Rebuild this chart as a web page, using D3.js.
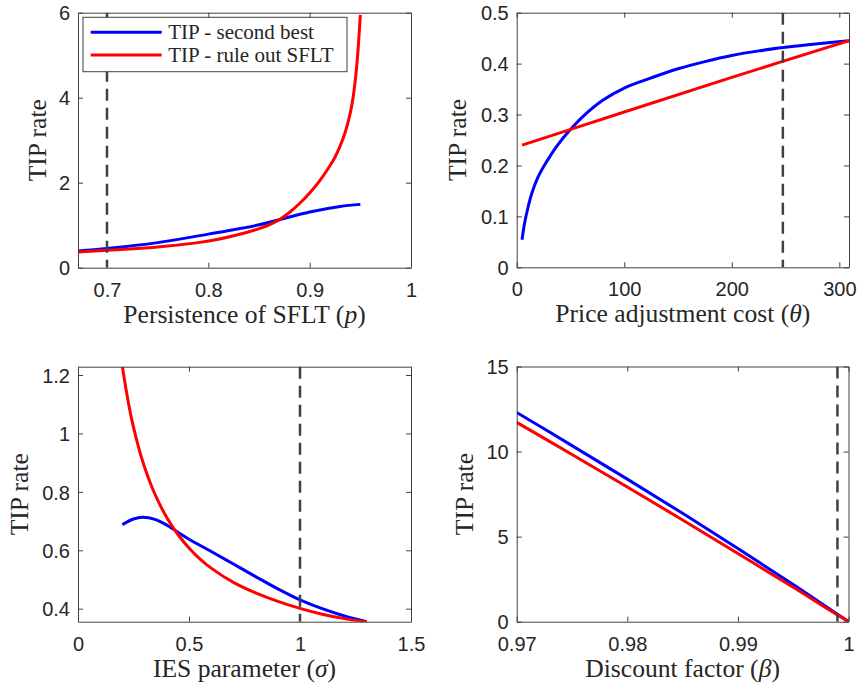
<!DOCTYPE html>
<html>
<head>
<meta charset="utf-8">
<script src="https://cdn.jsdelivr.net/npm/d3@7"></script>
<style>
  html, body { margin: 0; padding: 0; background: #fff; }
  svg { display: block; }
  .tick-label { font-family: "Liberation Sans", Arial, Helvetica, sans-serif; font-size: 20px; fill: #262626; }
  .axis-title { font-family: "Liberation Serif", "Times New Roman", serif; font-size: 25.6px; fill: #262626; }
  .legend-text { font-family: "Liberation Serif", "Times New Roman", serif; font-size: 21px; fill: #262626; }
</style>
</head>
<body>
<svg id="chart" width="859" height="686"></svg>
<script>
// ---- Panel A: persistence of SFLT (p) ----
const persistenceSecondBest = [0.671, 0.70, 0.75, 0.80, 0.85, 0.87, 0.90, 0.93, 0.95];
const tipSecondBestByP      = [0.39, 0.45, 0.59, 0.79, 1.01, 1.13, 1.31, 1.44, 1.49];
const persistenceRuleOut    = [0.671, 0.70, 0.73, 0.76, 0.79, 0.81, 0.83, 0.85, 0.86, 0.87, 0.88, 0.89, 0.90, 0.91, 0.92, 0.925, 0.93, 0.935, 0.94, 0.943, 0.946, 0.948, 0.95];
const tipRuleOutByP         = [0.37, 0.41, 0.45, 0.51, 0.59, 0.67, 0.78, 0.92, 1.01, 1.13, 1.30, 1.51, 1.76, 2.05, 2.40, 2.60, 2.86, 3.18, 3.63, 4.03, 4.63, 5.21, 5.95];
const persistenceTicks      = [0.7, 0.8, 0.9, 1];
const tipTicksA             = [0, 2, 4, 6];
const persistenceBaseline   = 0.7;

// ---- Panel B: price adjustment cost (theta) ----
const thetaSecondBest  = [5, 7, 10, 14, 20, 28, 38, 48.9, 62, 80, 100, 125, 150, 175, 200, 225, 250, 280, 309];
const tipSecondBestByTheta = [0.054, 0.083, 0.113, 0.145, 0.178, 0.208, 0.240, 0.268, 0.297, 0.328, 0.352, 0.372, 0.390, 0.404, 0.416, 0.425, 0.432, 0.439, 0.445];
const thetaRuleOut     = [5, 100, 200, 309];
const tipRuleOutByTheta = [0.240, 0.305, 0.373, 0.445];
const thetaTicks       = [0, 100, 200, 300];
const tipTicksB        = [0, 0.1, 0.2, 0.3, 0.4, 0.5];
const thetaBaseline    = 247.5;

// ---- Panel C: IES parameter (sigma) ----
const sigmaSecondBest  = [0.20, 0.25, 0.29, 0.35, 0.40, 0.45, 0.50, 0.60, 0.70, 0.80, 0.90, 1.00, 1.10, 1.20, 1.30];
const tipSecondBestBySigma = [0.688, 0.707, 0.713, 0.705, 0.686, 0.662, 0.638, 0.596, 0.553, 0.510, 0.468, 0.430, 0.400, 0.375, 0.3555];
const sigmaRuleOut     = [0.20, 0.22, 0.24, 0.26, 0.28, 0.30, 0.33, 0.36, 0.40, 0.45, 0.50, 0.55, 0.60, 0.70, 0.80, 0.90, 1.00, 1.10, 1.20, 1.30];
const tipRuleOutBySigma = [1.2285, 1.135, 1.055, 0.99, 0.933, 0.884, 0.822, 0.77, 0.712, 0.654, 0.608, 0.57, 0.539, 0.49, 0.454, 0.425, 0.401, 0.381, 0.366, 0.3555];
const sigmaTicks       = [0, 0.5, 1, 1.5];
const tipTicksC        = [0.4, 0.6, 0.8, 1, 1.2];
const sigmaBaseline    = 1;

// ---- Panel D: discount factor (beta) ----
const betaGrid         = [0.97, 0.975, 0.98, 0.985, 0.99, 0.995, 0.999, 1.0];
const tipSecondBestByBeta = [12.3, 10.35, 8.38, 6.37, 4.30, 2.18, 0.44, 0.02];
const tipRuleOutByBeta    = [11.72, 9.83, 7.92, 5.98, 4.01, 2.02, 0.40, 0.02];
const betaTicks        = [0.97, 0.98, 0.99, 1];
const tipTicksD        = [0, 5, 10, 15];
const betaBaseline     = 0.999;

const seriesNames = ["TIP - second best", "TIP - rule out SFLT"];
const seriesColors = ["#0000ff", "#ff0000"];

const zip = (xs, ys) => xs.map((x, i) => [x, ys[i]]);

const panels = [
  {
    box: { x0: 78, x1: 411, y0: 12.7, y1: 267.7 },
    xDomain: [0.6714, 1], yDomain: [0, 6],
    xTicks: persistenceTicks, yTicks: tipTicksA,
    xTitle: ["Persistence of SFLT (", "p", ")"],
    yTitleX: 46,
    blue: zip(persistenceSecondBest, tipSecondBestByP),
    red: zip(persistenceRuleOut, tipRuleOutByP),
    vline: persistenceBaseline,
    legend: true
  },
  {
    box: { x0: 516.7, x1: 849, y0: 12.7, y1: 267.3 },
    xDomain: [0, 309], yDomain: [0, 0.5],
    xTicks: thetaTicks, yTicks: tipTicksB,
    xTitle: ["Price adjustment cost (", "θ", ")"],
    yTitleX: 466,
    blue: zip(thetaSecondBest, tipSecondBestByTheta),
    red: zip(thetaRuleOut, tipRuleOutByTheta),
    vline: thetaBaseline
  },
  {
    box: { x0: 78, x1: 411, y0: 366.7, y1: 621.7 },
    xDomain: [0, 1.5], yDomain: [0.3555, 1.2285],
    xTicks: sigmaTicks, yTicks: tipTicksC,
    xTitle: ["IES parameter (", "σ", ")"],
    yTitleX: 28,
    blue: zip(sigmaSecondBest, tipSecondBestBySigma),
    red: zip(sigmaRuleOut, tipRuleOutBySigma),
    vline: sigmaBaseline
  },
  {
    box: { x0: 516.7, x1: 848.5, y0: 366.5, y1: 621.7 },
    xDomain: [0.97, 1.0], yDomain: [0, 15],
    xTicks: betaTicks, yTicks: tipTicksD,
    xTitle: ["Discount factor (", "β", ")"],
    yTitleX: 473,
    blue: zip(betaGrid, tipSecondBestByBeta),
    red: zip(betaGrid, tipRuleOutByBeta),
    vline: betaBaseline
  }
];

const svg = d3.select("#chart");
const axisColor = "#404040";
const tickLen = 5;

panels.forEach((p, idx) => {
  const { x0, x1, y0, y1 } = p.box;
  const x = d3.scaleLinear().domain(p.xDomain).range([x0, x1]);
  const y = d3.scaleLinear().domain(p.yDomain).range([y1, y0]);
  const g = svg.append("g");

  const clipId = "clip" + idx;
  svg.append("clipPath").attr("id", clipId)
    .append("rect").attr("x", x0).attr("y", y0).attr("width", x1 - x0).attr("height", y1 - y0);

  g.append("rect").attr("x", x0).attr("y", y0).attr("width", x1 - x0).attr("height", y1 - y0)
    .attr("fill", "#fff");

  // data lines
  const line = d3.line().x(d => x(d[0])).y(d => y(d[1])).curve(d3.curveCatmullRom.alpha(0.5));
  const plot = g.append("g").attr("clip-path", `url(#${clipId})`);
  plot.append("path").datum(p.blue).attr("d", line)
    .attr("fill", "none").attr("stroke", seriesColors[0]).attr("stroke-width", 3)
    .attr("stroke-linejoin", "round");
  plot.append("path").datum(p.red).attr("d", line)
    .attr("fill", "none").attr("stroke", seriesColors[1]).attr("stroke-width", 3)
    .attr("stroke-linejoin", "round");

  // calibrated value marker
  plot.append("line")
    .attr("x1", x(p.vline)).attr("x2", x(p.vline))
    .attr("y1", y0).attr("y2", y1)
    .attr("stroke", "#404040").attr("stroke-width", 2.5)
    .attr("stroke-dasharray", "12,7");

  // axes: bottom/left labelled, top/right mirrored ticks, all ticks inward
  const axB = d3.axisBottom(x).tickValues(p.xTicks).tickSizeInner(-tickLen).tickSizeOuter(0).tickPadding(15)
    .tickFormat(d3.format("~g"));
  const axT = d3.axisTop(x).tickValues(p.xTicks).tickSizeInner(-tickLen).tickSizeOuter(0).tickFormat("");
  const axL = d3.axisLeft(y).tickValues(p.yTicks).tickSizeInner(-tickLen).tickSizeOuter(0).tickPadding(8)
    .tickFormat(d3.format("~g"));
  const axR = d3.axisRight(y).tickValues(p.yTicks).tickSizeInner(-tickLen).tickSizeOuter(0).tickFormat("");

  const styleAxis = sel => {
    sel.attr("font-size", null).attr("font-family", null);
    sel.select(".domain").attr("stroke", axisColor).attr("stroke-width", 1);
    sel.selectAll(".tick line").attr("stroke", axisColor).attr("stroke-width", 1);
    sel.selectAll(".tick text").attr("class", "tick-label").attr("fill", "#262626");
  };
  g.append("g").attr("transform", `translate(0,${y1})`).call(axB).call(styleAxis);
  g.append("g").attr("transform", `translate(0,${y0})`).call(axT).call(styleAxis);
  g.append("g").attr("transform", `translate(${x0},0)`).call(axL).call(styleAxis)
    .selectAll(".tick text").attr("dy", "0.36em");
  g.append("g").attr("transform", `translate(${x1},0)`).call(axR).call(styleAxis);

  // x title
  const xt = g.append("text").attr("class", "axis-title")
    .attr("x", (x0 + x1) / 2).attr("y", y1 + 55).attr("text-anchor", "middle");
  xt.append("tspan").text(p.xTitle[0]);
  xt.append("tspan").attr("font-style", "italic").text(p.xTitle[1]);
  xt.append("tspan").text(p.xTitle[2]);

  // y title
  g.append("text").attr("class", "axis-title")
    .attr("transform", `translate(${p.yTitleX},${(y0 + y1) / 2}) rotate(-90)`)
    .attr("text-anchor", "middle").text("TIP rate");

  if (p.legend) {
    const lg = g.append("g");
    lg.append("rect").attr("x", 83).attr("y", 17.3).attr("width", 264).attr("height", 54.4)
      .attr("fill", "#fff").attr("stroke", axisColor).attr("stroke-width", 1);
    seriesNames.forEach((name, i) => {
      const ly = 32.3 + i * 22.7;
      lg.append("line").attr("x1", 90.7).attr("x2", 161.7).attr("y1", ly).attr("y2", ly)
        .attr("stroke", seriesColors[i]).attr("stroke-width", 3);
      lg.append("text").attr("class", "legend-text").attr("x", 168.3).attr("y", ly + 7)
        .text(name);
    });
  }
});
</script>
</body>
</html>
